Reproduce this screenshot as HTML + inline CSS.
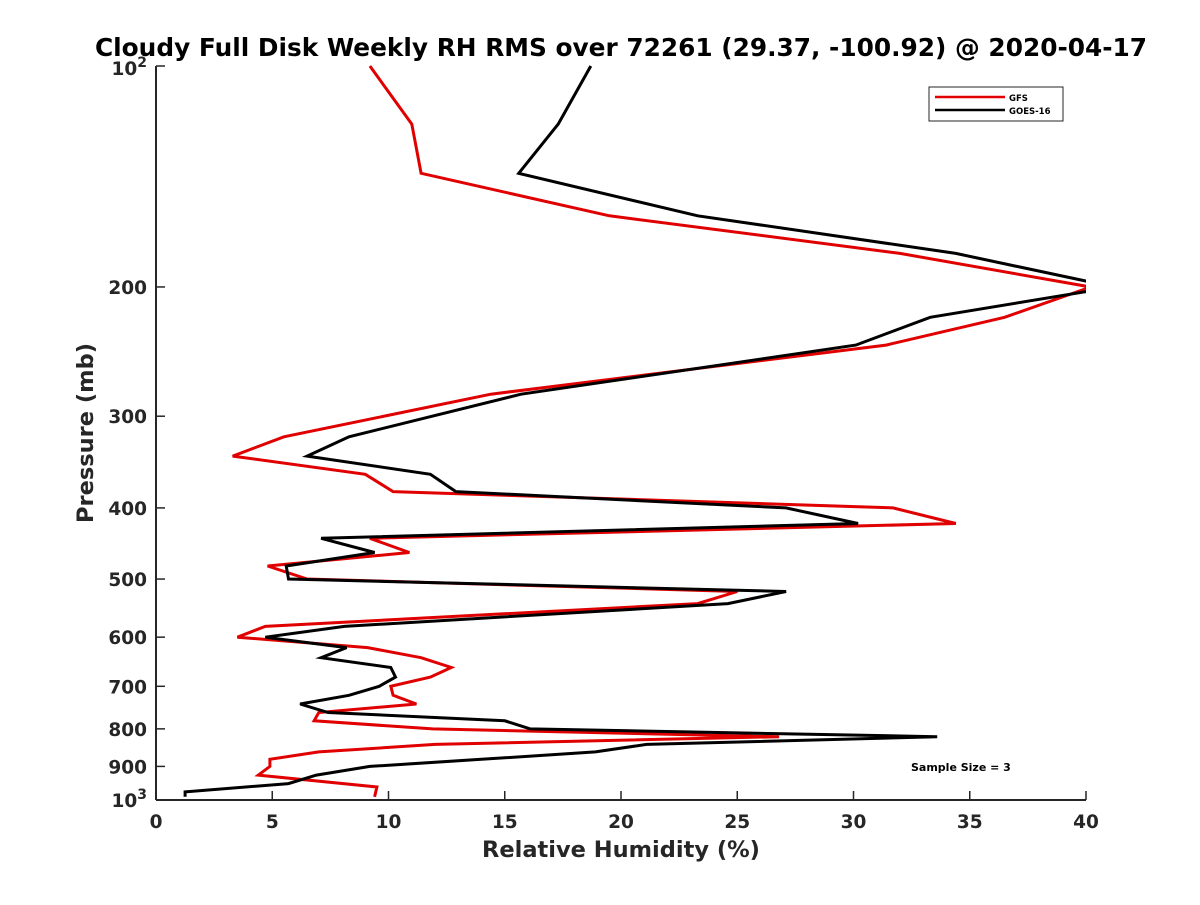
<!DOCTYPE html>
<html><head><meta charset="utf-8"><style>
body{margin:0;background:#fff}
svg text{font-family:"DejaVu Sans","Liberation Sans",sans-serif;font-weight:bold;fill:#262626}
</style></head><body>
<svg id="chart" width="1200" height="900" xmlns="http://www.w3.org/2000/svg">
<defs><clipPath id="plotclip"><rect x="156" y="60" width="930" height="745"/></clipPath></defs>
<text x="621" y="56" font-size="24.8" text-anchor="middle" style="fill:#000">Cloudy Full Disk Weekly RH RMS over 72261 (29.37, -100.92) @ 2020-04-17</text>
<g id="axes"></g>
<g id="series" clip-path="url(#plotclip)"></g>
<text transform="translate(93,433) rotate(-90)" font-size="22.5" text-anchor="middle">Pressure (mb)</text>
<text x="621" y="857" font-size="22.5" text-anchor="middle">Relative Humidity (%)</text>
<text x="911" y="771" font-size="11" style="fill:#000">Sample Size = 3</text>
<g>
<rect x="929" y="87" width="134" height="34" fill="#fff" stroke="#262626" stroke-width="1"/>
<line x1="935" y1="97" x2="1005" y2="97" stroke="#e00000" stroke-width="2.5"/>
<text x="1009" y="101" font-size="8.5" style="fill:#000">GFS</text>
<line x1="935" y1="110" x2="1005" y2="110" stroke="#000" stroke-width="2.5"/>
<text x="1009" y="114" font-size="8.5" style="fill:#000">GOES-16</text>
</g>
</svg>
<script>
const gfsP=[100,120,140,160,180,200,220,240,280,320,340,360,380,400,420,440,460,480,500,520,540,580,600,620,640,660,680,700,720,740,760,780,800,820,840,860,880,900,925,960,990];
const gfsRH=[9.2,11.0,11.4,19.5,32.0,40.2,36.5,31.4,14.4,5.5,3.3,9.0,10.2,31.7,34.4,9.2,10.9,4.8,6.5,25.0,23.3,4.7,3.5,9.1,11.4,12.7,11.8,10.1,10.2,11.2,7.0,6.8,11.9,26.8,12.0,7.0,4.9,4.9,4.4,9.5,9.4];
const goesP=[100,120,140,160,180,200,220,240,280,320,340,360,380,400,420,440,460,480,500,520,540,580,600,620,640,660,680,700,720,740,760,780,800,820,840,860,880,900,925,950,975,990];
const goesRH=[18.7,17.3,15.6,23.3,34.4,41.2,33.3,30.1,15.7,8.3,6.5,11.8,12.9,27.1,30.2,7.1,9.4,5.6,5.7,27.1,24.6,8.1,4.7,8.2,7.1,10.1,10.3,9.6,8.3,6.2,7.4,15.0,16.1,33.6,21.1,18.9,14.0,9.2,6.9,5.7,1.25,1.25];
const xTicks=[0,5,10,15,20,25,30,35,40];
const yTicks=[100,200,300,400,500,600,700,800,900,1000];
const X=v=>156+v*(930/40);
const Y=p=>66+Math.log10(p/100)*734;
const NS="http://www.w3.org/2000/svg";
function mk(t,a,parent){const e=document.createElementNS(NS,t);for(const k in a)e.setAttribute(k,a[k]);parent.appendChild(e);return e;}
const ax=document.getElementById('axes');
const xl=mk('line',{x1:156,y1:800,x2:1086,y2:800,stroke:'#262626','stroke-width':2},ax);


const yl=mk('line',{x1:156,y1:66,x2:156,y2:800,stroke:'#262626','stroke-width':2},ax);


xTicks.forEach(v=>{
  const t=mk('line',{x1:X(v),y1:800,x2:X(v),y2:791,stroke:'#262626','stroke-width':1.5},ax);
  
  
  const l=mk('text',{x:X(v),y:828,'font-size':18.5,'text-anchor':'middle'},ax);
  l.textContent=v;
  
  
});
yTicks.forEach(p=>{
  const t=mk('line',{x1:156,y1:Y(p),x2:165,y2:Y(p),stroke:'#262626','stroke-width':1.5},ax);
  
  
  const l=mk('text',{x:147,y:Y(p)+7,'font-size':18.5,'text-anchor':'end'},ax);
  
  
  if(p===100||p===1000){
    l.setAttribute('y',Y(p)+(p===100?9:7));
    l.textContent='10';
    const s=mk('tspan',{dy:-8,'font-size':14},l);
    s.textContent=p===100?'2':'3';
  } else l.textContent=p;
});
const sg=document.getElementById('series');
function draw(P,V,color,name){
  const pts=P.map((p,i)=>X(V[i]).toFixed(1)+','+Y(p).toFixed(1)).join(' ');
  const pl=mk('polyline',{points:pts,fill:'none',stroke:color,'stroke-width':3,'stroke-linejoin':'miter'},sg);
  
  
}
draw(gfsP,gfsRH,'#e00000','gfs-line');
draw(goesP,goesRH,'#000000','goes16-line');
</script>
</body></html>
